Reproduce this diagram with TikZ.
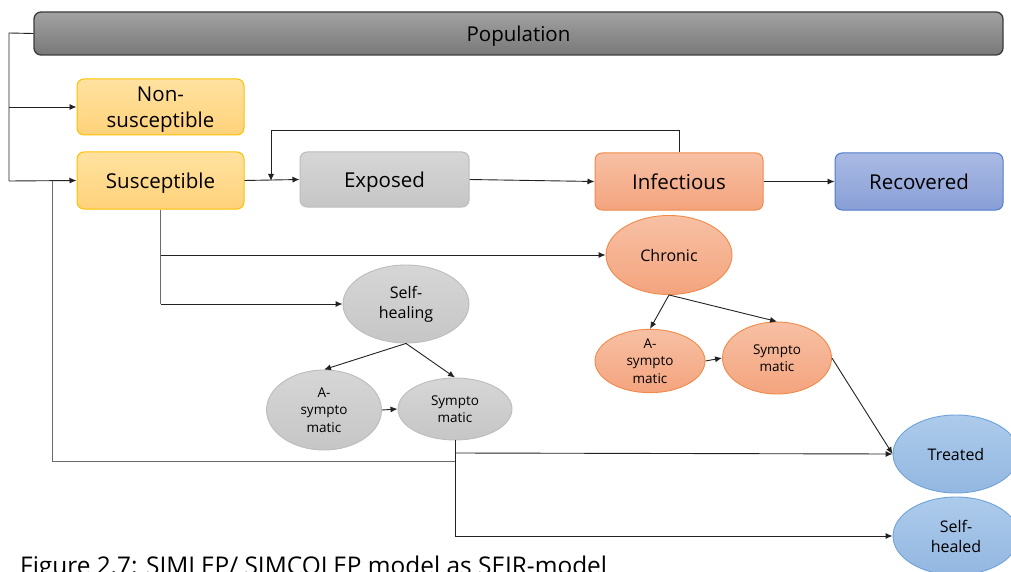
\documentclass[tikz,border=0pt]{standalone}
\usepackage{fontspec}
\setmainfont{Open Sans}
\usetikzlibrary{arrows.meta,shapes.geometric}

\definecolor{popTop}{HTML}{A2A2A2}
\definecolor{popBot}{HTML}{787878}
\definecolor{popLine}{HTML}{3C3C3C}
\definecolor{yelTop}{HTML}{FFE2A0}
\definecolor{yelBot}{HTML}{FFD27A}
\definecolor{yelLine}{HTML}{FFC000}
\definecolor{gryTop}{HTML}{D6D6D6}
\definecolor{gryBot}{HTML}{C6C6C6}
\definecolor{gryLine}{HTML}{BCBCBC}
\definecolor{orgTop}{HTML}{F7C0A4}
\definecolor{orgBot}{HTML}{F4A47E}
\definecolor{orgLine}{HTML}{F08A4B}
\definecolor{bluTop}{HTML}{AABAE4}
\definecolor{bluBot}{HTML}{889FD6}
\definecolor{bluLine}{HTML}{4F7BCB}
\definecolor{skyTop}{HTML}{ADCBEB}
\definecolor{skyBot}{HTML}{93B7E1}
\definecolor{skyLine}{HTML}{6FA3D8}
\definecolor{wire}{HTML}{222222}
\definecolor{wireGray}{HTML}{6A6A6A}

\tikzset{
  stagebox/.style={rectangle, rounded corners=7pt, line width=1pt,
    inner sep=0pt, align=center, text depth=0pt,
    font=\fontsize{20.5}{26}\selectfont},
  yelbox/.style={stagebox, draw=yelLine, top color=yelTop, bottom color=yelBot},
  grybox/.style={stagebox, draw=gryLine, top color=gryTop, bottom color=gryBot},
  orgbox/.style={stagebox, draw=orgLine, top color=orgTop, bottom color=orgBot},
  blubox/.style={stagebox, draw=bluLine, top color=bluTop, bottom color=bluBot},
  popbox/.style={stagebox, draw=popLine, line width=1.3pt, top color=popTop, bottom color=popBot},
  blob/.style={ellipse, inner sep=0pt, line width=0.9pt, align=center},
  bigtext/.style={font=\fontsize{16}{20}\selectfont},
  smalltext/.style={font=\fontsize{13.5}{17.5}\selectfont},
  grayblob/.style={blob, draw=gryLine, top color=gryTop, bottom color=gryBot},
  orgblob/.style={blob, draw=orgLine, top color=orgTop, bottom color=orgBot},
  skyblob/.style={blob, draw=skyLine, top color=skyTop, bottom color=skyBot},
  wireline/.style={draw=wire, line width=0.9pt},
  wirearrow/.style={wireline, -{Latex[length=7pt,width=6pt]}},
  greyline/.style={draw=wireGray, line width=1pt},
}

\begin{document}
\begin{tikzpicture}[x=1pt, y=-1pt]
\useasboundingbox (0,0) rectangle (1011,572);
\clip (0,0) rectangle (1011,572);

% compartments
\node[popbox, minimum width=969pt, minimum height=43pt] (pop) at (518.5,33.5) {Population};
\node[yelbox, minimum width=167pt, minimum height=56pt] (nonsus) at (160.5,107) {Non-\\susceptible};
\node[yelbox, minimum width=167pt, minimum height=57pt] (sus) at (160.5,180.5) {Susceptible};
\node[grybox, minimum width=169pt, minimum height=55pt] (exp) at (384.5,179.5) {Exposed};
\node[orgbox, minimum width=168pt, minimum height=57pt] (inf) at (679,181.5) {Infectious};
\node[blubox, minimum width=168pt, minimum height=57pt] (rec) at (919,181.5) {Recovered};

% chronic branch
\node[orgblob, bigtext, minimum width=126pt, minimum height=79pt] (chron) at (669,255) {Chronic};
\node[orgblob, smalltext, minimum width=110pt, minimum height=57pt] (asymo) at (650,361) {A-\\sympto\\matic};
\node[orgblob, smalltext, minimum width=109pt, minimum height=72pt] (symo) at (777,358) {Sympto\\matic};

% self-healing branch
\node[grayblob, bigtext, minimum width=126pt, minimum height=78pt] (selfh) at (406,304) {Self-\\healing};
\node[grayblob, smalltext, minimum width=115pt, minimum height=80pt] (asymg) at (324,410) {A-\\sympto\\matic};
\node[grayblob, smalltext, minimum width=114pt, minimum height=62pt] (symg) at (455,409) {Sympto\\matic};

% outcomes
\node[skyblob, bigtext, minimum width=126pt, minimum height=78pt] (treat) at (956,454) {Treated};
\node[skyblob, bigtext, minimum width=126pt, minimum height=78pt] (healed) at (956,536) {Self-\\healed};

% population split
\coordinate (popL) at (9,33);
\draw[wireline] (pop.west) -- (popL) -- (9,181);
\draw[wirearrow] (9,107) -- (nonsus.west);
\draw[wirearrow] (9,181) -- (sus.west);

% main SEIR chain
\draw[wirearrow] (sus.east) -- (exp.west);
\draw[wirearrow] (exp.east) -- (inf.west);
\draw[wirearrow] (inf.east) -- (rec.west);
\coordinate (fbTop) at (679,130);
\draw[wirearrow] (inf.north) -- (fbTop) -- (271,130) -- (271,181);

% from susceptible down to the chronic and self-healing routes
\coordinate (susDrop) at (160.5,304);
\draw[greyline] (sus.south) -- (susDrop);
\draw[wirearrow] (160.5,255) -- (chron.west);
\draw[wirearrow] (susDrop) -- (selfh.west);

\draw[wirearrow] (chron.south) -- (asymo.north);
\draw[wirearrow] (chron.south) -- (symo.north);
\draw[wirearrow] (asymo.east) -- (symo.west);
\draw[wirearrow] (symo.east) -- (treat.west);

\draw[wirearrow] (selfh.south) -- (asymg.north);
\draw[wirearrow] (selfh.south) -- (symg.north);
\draw[wirearrow] (asymg.east) -- (symg.west);

% loop from susceptible around the left side
\coordinate (loopC) at (52,461);
\draw[greyline] (52,181) -- (loopC) -- (455,461);

% outcomes of symptomatic cases
\coordinate (symDrop) at (455,536);
\draw[wireline] (symg.south) -- (symDrop);
\draw[wirearrow] (455,453) -- (treat.west);
\draw[wirearrow] (symDrop) -- (healed.west);

% caption
\node[anchor=base west, inner sep=0pt, font=\fontsize{24.4}{28}\selectfont] (cap) at (20,574.5) {Figure 2.7: SIMLEP/ SIMCOLEP model as SEIR-model};
\end{tikzpicture}
\end{document}
